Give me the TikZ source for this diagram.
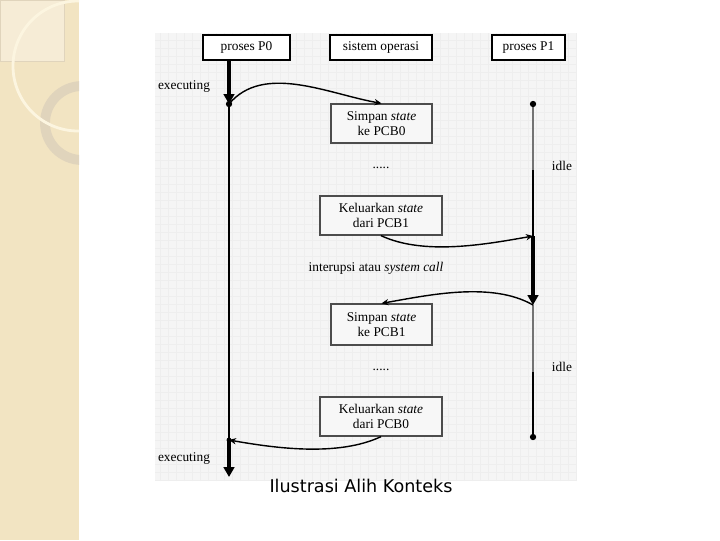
\documentclass[tikz,border=0pt]{standalone}
\usepackage{fontspec}
\setmainfont{Liberation Serif}
\newfontfamily\captionfont{DejaVu Sans}
\usetikzlibrary{arrows.meta,positioning,calc}
\definecolor{strip}{RGB}{242,228,194}
\definecolor{stripcorner}{RGB}{246,236,214}
\definecolor{ringlight}{RGB}{252,245,224}
\definecolor{ringdark}{RGB}{224,212,188}
\definecolor{panel}{RGB}{245,245,245}
\definecolor{panelgrid}{RGB}{238,238,238}

\begin{document}
\begin{tikzpicture}[x=0.025cm, y=-0.025cm,
    every node/.style={font=\fontsize{9.5}{11}\selectfont},
    header/.style={draw, line width=1.6pt, fill=white, inner sep=0pt, minimum height=0.625cm},
    osbox/.style={draw=black!70, line width=0.9pt, fill=white!97!black, align=center, inner sep=0pt, minimum width=2.525cm, minimum height=0.975cm},
    outbox/.style={osbox, minimum width=3.05cm},
    lifeline/.style={line width=1pt},
    active/.style={line width=2.8pt, -{Triangle[length=7pt, width=7.5pt]}},
    hop/.style={line width=1pt, -{Stealth[length=5pt, width=4.5pt]}},
    dot/.style={circle, fill, inner sep=0pt, minimum size=4.5pt}]
    \useasboundingbox (0,0) rectangle (720,540);
    \fill[white] (0,0) rectangle (720,540);

    % Side strip
    \fill[strip] (0,0) rectangle (79,540);
    \begin{scope}
        \clip (0,0) rectangle (79,540);
        \fill[stripcorner, draw=ringdark, line width=0.3pt] (0,0) rectangle (64,61);
        \draw[ringdark, line width=7pt] (82,123) circle (37);
        \draw[ringlight, line width=2pt] (78,66) circle (65);
    \end{scope}

    % Panel
    \fill[panel] (155,33) rectangle (577,481);
    \draw[panelgrid, line width=0.2pt, step=0.2cm] (155,33) grid (577,481);

    % Headers
    \node[header, minimum width=2.175cm] (P0) at (246.5,47.5) {proses P0};
    \node[header, minimum width=2.55cm] (OS) at (381,47.5) {sistem operasi};
    \node[header, minimum width=1.825cm] (P1) at (528.5,47.5) {proses P1};

    % OS boxes
    \node[osbox] (S0) at (381.5,123.5) {Simpan \textit{state}\\ke PCB0};
    \node[outbox] (K1) at (381,215.5) {Keluarkan \textit{state}\\dari PCB1};
    \node[osbox, minimum height=1.025cm] (S1) at (381.5,324.5) {Simpan \textit{state}\\ke PCB1};
    \node[outbox] (K0) at (381,416.5) {Keluarkan \textit{state}\\dari PCB0};

    % Points on the lifelines
    \coordinate (p0s) at (229,60);
    \coordinate (p0a) at (229,104);
    \coordinate (p0b) at (229,440);
    \coordinate (p0e) at (229,477);
    \coordinate (p1s) at (533,104);
    \coordinate (p1m) at (533,170);
    \coordinate (p1a) at (533,236);
    \coordinate (p1b) at (533,305);
    \coordinate (p1n) at (533,372);
    \coordinate (p1e) at (533,437);

    % P0
    \draw[active] (p0s) -- (p0a);
    \draw[lifeline] (p0a) -- (p0b);
    \draw[active] (p0b) -- (p0e);
    \node[dot] at (p0a) {};
    \node[dot, minimum size=3.5pt] at (p0b) {};

    % P1
    \draw[lifeline, black!55] (p1s) -- (p1m);
    \draw[lifeline] (p1m) -- (p1a);
    \draw[active] (p1a) -- (p1b);
    \draw[lifeline, black!55] (p1b) -- (p1n);
    \draw[lifeline] (p1n) -- (p1e);
    \node[dot] at (p1s) {};
    \node[dot] at (p1e) {};

    % Switches
    \draw[hop] (p0a) to[out=50, in=170, looseness=0.9] (S0.north);
    \draw[hop] (K1.south) to[out=-25, in=190, looseness=0.8] (p1a);
    \draw[hop] (p1b) to[out=150, in=10, looseness=0.8] (S1.north);
    \draw[hop] (K0.south) to[out=-155, in=-10, looseness=0.8] (p0b);

    % Labels
    \node (ex1) at (184,87) {executing};
    \node (ex2) at (184,459) {executing};
    \node (id1) at (562,166) {idle};
    \node (id2) at (562,367) {idle};
    \node (dt1) at (381,168) {.....};
    \node (dt2) at (381,370) {.....};
    \node (irq) at (376,268) {interupsi atau \textit{system call}};

    % Caption
    \node[font=\captionfont\fontsize{12.5}{14}\selectfont] (cap) at (361,486) {Ilustrasi Alih Konteks};
\end{tikzpicture}
\end{document}
